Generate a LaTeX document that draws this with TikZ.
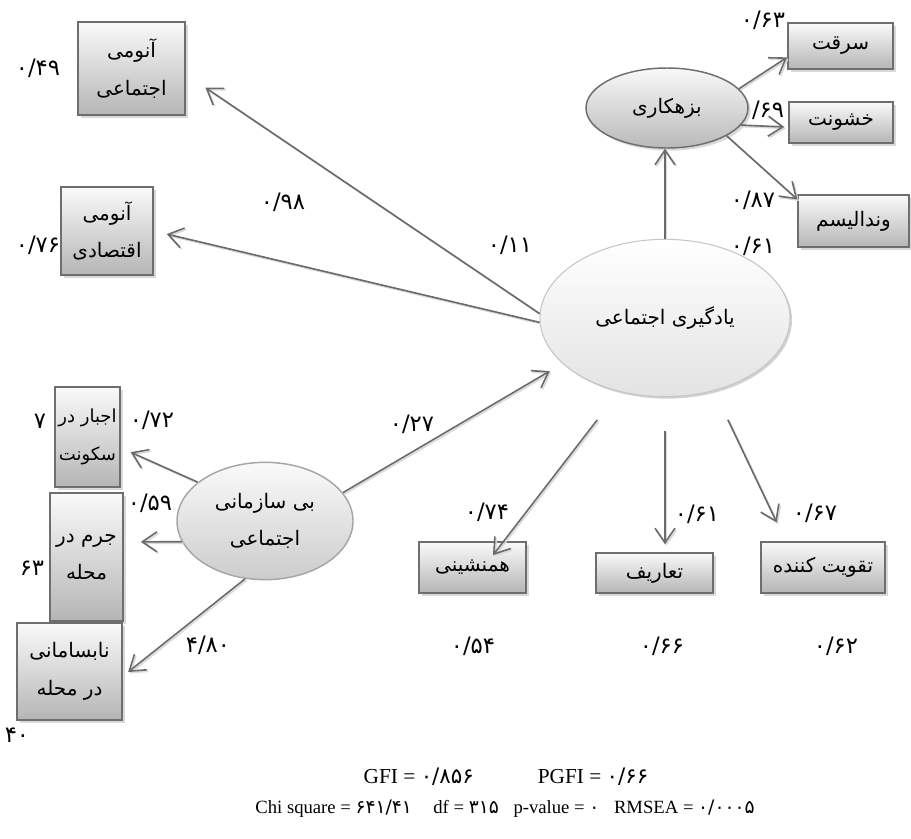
\documentclass[tikz,border=0pt]{standalone}
\usepackage{fontspec}
\setmainfont{Liberation Serif}
\newfontfamily\arabicfont[Script=Arabic]{DejaVu Sans}
\newfontfamily\digitfont{DejaVu Sans}
\TeXXeTstate=1
\usetikzlibrary{arrows.meta,shadows,shapes.geometric}

\definecolor{bordgris}{HTML}{6E6E6E}
\definecolor{flechegris}{HTML}{6A6A6A}

\newcommand{\chiffres}[1]{{\digitfont\fontsize{16}{18}\selectfont #1}}
\newcommand{\petitschiffres}[1]{{\digitfont\fontsize{14}{16}\selectfont #1}}

\tikzset{
  boite/.style={draw=bordgris, line width=1.1pt, top color=gray!4, bottom color=gray!58,
    drop shadow={shadow xshift=2pt, shadow yshift=-2pt, fill=gray!30, opacity=1},
    align=center, inner sep=1pt, font=\fontsize{15}{28}\arabicfont},
  latente/.style={ellipse, inner sep=0pt, align=center, font=\fontsize{15}{28}\arabicfont},
  fleche/.style={draw=flechegris, line width=1.2pt, -{Straight Barb[length=11pt,width=15pt]},
    preaction={draw=gray!30, line width=1.2pt, transform canvas={shift={(1.1pt,-1.1pt)}}}},
  val/.style={font=\fontsize{17}{19}\digitfont, inner sep=0pt},
}

\begin{document}
\begin{tikzpicture}[x=0.75pt, y=-0.75pt]
  \useasboundingbox[fill=white] (0,0) rectangle (911,839);

  % Variables latentes
  \node[latente, draw=gray!45, line width=0.8pt, top color=white, bottom color=gray!22,
    drop shadow={shadow xshift=1.5pt, shadow yshift=-1.5pt, fill=gray!35, opacity=1},
    minimum width=187.5pt, minimum height=118pt] (soclearn) at (665,318)
    {\beginR یادگیری اجتماعی\endR};
  \node[latente, draw=bordgris, line width=1.1pt, top color=gray!5, bottom color=gray!55,
    drop shadow={shadow xshift=2pt, shadow yshift=-2pt, fill=gray!30, opacity=1},
    minimum width=121.5pt, minimum height=60pt] (delinq) at (667,108)
    {\beginR بزهکاری\endR};
  \node[latente, draw=gray!70, line width=1.1pt, top color=gray!4, bottom color=gray!40,
    minimum width=132pt, minimum height=88pt] (disorg) at (265,521)
    {\beginR بی سازمانی\endR\\\beginR اجتماعی\endR};

  % Variables observees
  \node[boite, minimum width=80pt, minimum height=70pt] (anomSoc) at (131.5,68.5)
    {\beginR آنومی\endR\\\beginR اجتماعی\endR};
  \node[boite, minimum width=69pt, minimum height=66pt] (anomEco) at (107,231)
    {\beginR آنومی\endR\\\beginR اقتصادی\endR};
  \node[boite, minimum width=79pt, minimum height=34.5pt] (theft) at (840.5,46)
    {\beginR سرقت\endR};
  \node[boite, minimum width=78pt, minimum height=31pt] (violence) at (841,122.5)
    {\beginR خشونت\endR};
  \node[boite, minimum width=83pt, minimum height=39pt] (vandal) at (853.5,221)
    {\beginR وندالیسم\endR};
  \node[boite, minimum width=49pt, minimum height=75pt, font=\fontsize{13.5}{28}\arabicfont]
    (forced) at (87.5,437) {\beginR اجبار در\endR\\\beginR سکونت\endR};
  \node[boite, minimum width=55pt, minimum height=96pt] (crime) at (86.5,557)
    {\beginR جرم در\endR\\\beginR محله\endR};
  \node[boite, minimum width=79pt, minimum height=73pt] (disorder) at (69.5,671.5)
    {\beginR نابسامانی\endR\\\beginR در محله\endR};
  \node[boite, minimum width=80pt, minimum height=38pt] (assoc) at (472.5,567.5)
    {\beginR همنشینی\endR};
  \node[boite, minimum width=88pt, minimum height=30pt] (defs) at (654.5,573)
    {\beginR تعاریف\endR};
  \node[boite, minimum width=93pt, minimum height=38pt] (reinf) at (823,567.5)
    {\beginR تقویت کننده\endR};

  % Chemins
  \draw[fleche, shorten >=18pt] (soclearn.178) -- (anomSoc.-6);
  \draw[fleche, shorten >=10pt] (soclearn.182) -- (anomEco.east);
  \draw[fleche] (soclearn.north) -- (soclearn.north |- delinq.south);
  \draw[fleche] (delinq.15) -- (theft.192);
  \draw[fleche, shorten >=3pt] (delinq.-13) -- (violence.185);
  \draw[fleche] (delinq.-25) -- (vandal.159);
  \draw[fleche, shorten >=8pt] (disorg.150) -- (forced.-18);
  \draw[fleche, shorten >=12.75pt] (disorg.194) -- (crime.22);
  \draw[fleche, shorten >=5pt] (disorg.251) -- (disorder.-5);
  \draw[fleche, shorten >=11pt] (disorg.20) -- (soclearn.204);
  \draw[fleche, shorten <=26.7pt, shorten >=-13pt] (soclearn.238) -- (assoc.40);
  \draw[fleche, shorten <=25pt, shorten >=6pt] (soclearn.south) -- (soclearn.south |- defs.north);
  \draw[fleche, shorten <=24pt, shorten >=15.8pt] (soclearn.-56) -- (reinf.145);

  % Coefficients
  \node[val] (l49) at (38,68) {۰/۴۹};
  \node[val] (l76) at (38,245) {۰/۷۶};
  \node[val] (l98) at (283,202) {۰/۹۸};
  \node[val] (l11) at (510,245) {۰/۱۱};
  \node[val] (l63) at (763,20) {۰/۶۳};
  \node[val] (l69) at (768,110) {/۶۹};
  \node[val] (l87) at (753,200) {۰/۸۷};
  \node[val] (l61a) at (753,246) {۰/۶۱};
  \node[val] (l72) at (152,420) {۰/۷۲};
  \node[val] (l7) at (40,421) {۷};
  \node[val] (l59) at (150,503) {۰/۵۹};
  \node[val] (l63b) at (32,568) {۶۳};
  \node[val] (l40) at (17,735) {۴۰};
  \node[val] (l480) at (208,645) {۴/۸۰};
  \node[val] (l27) at (412,424) {۰/۲۷};
  \node[val] (l74) at (487,512) {۰/۷۴};
  \node[val] (l61b) at (697,514) {۰/۶۱};
  \node[val] (l67) at (815,513) {۰/۶۷};
  \node[val] (l54) at (473,646) {۰/۵۴};
  \node[val] (l66) at (662,646) {۰/۶۶};
  \node[val] (l62) at (836,646) {۰/۶۲};

  % Indices d'ajustement
  \node[font=\fontsize{16}{18}\selectfont, inner sep=0pt] (fit1) at (506,777)
    {GFI = \chiffres{۰/۸۵۶}\hspace{48pt}PGFI = \chiffres{۰/۶۶}};
  \node[font=\fontsize{14}{16}\selectfont, inner sep=0pt] (fit2) at (505,809)
    {Chi square = \petitschiffres{۶۴۱/۴۱}\hspace{16pt}df = \petitschiffres{۳۱۵}\hspace{11pt}p-value = \petitschiffres{۰}\hspace{11pt}RMSEA = \petitschiffres{۰/۰۰۰۵}};
\end{tikzpicture}
\end{document}
